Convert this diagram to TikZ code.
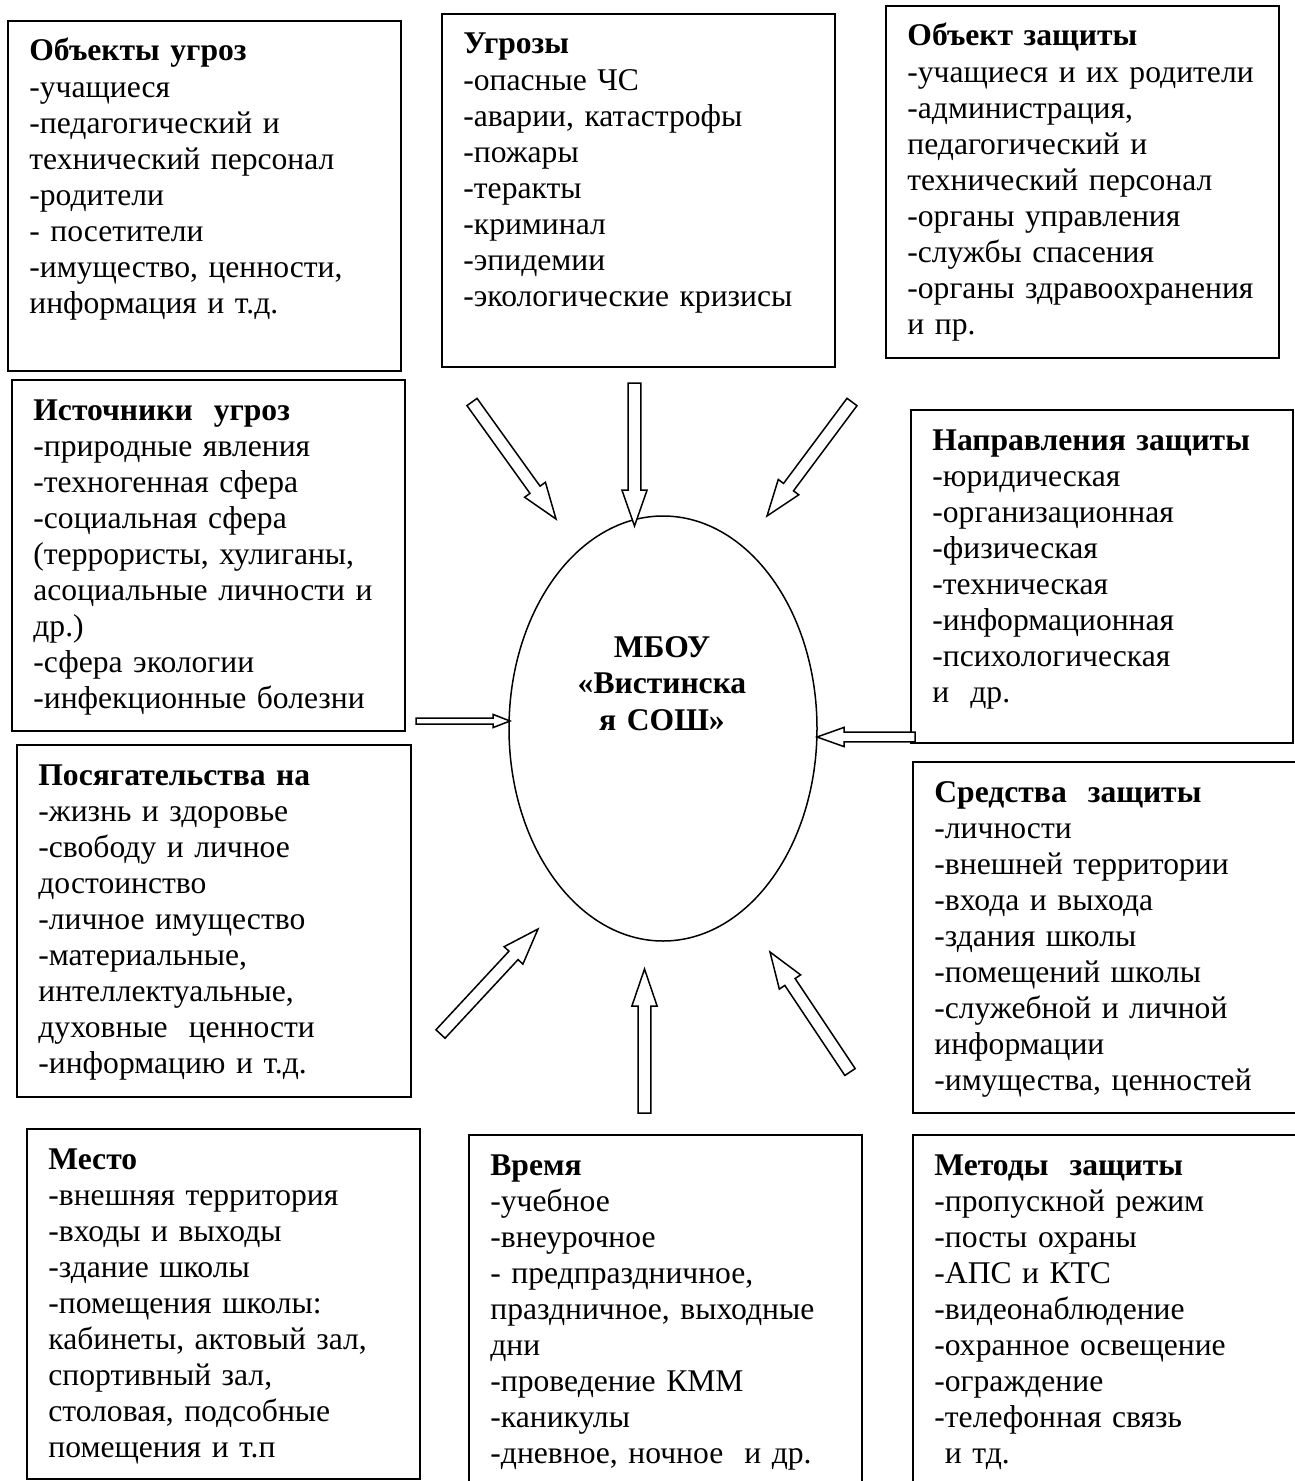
\documentclass[tikz,border=0pt]{standalone}
\usepackage{fontspec}
\setmainfont{Liberation Serif}
\usetikzlibrary{calc,shapes.geometric}

\tikzset{
  frame/.style={draw, line width=1pt},
  info/.style={anchor=base west, align=left, text width=190pt, inner sep=0pt,
    font=\fontsize{15.8pt}{18.05pt}\selectfont},
  arrowline/.style={draw, line width=0.75pt, fill=white, line join=miter},
}

% hollow block arrow: tail, tip, half shaft, half head, head length
\newcommand\blockarrow[5]{%
  \coordinate (hb) at ($(#2)!#5!(#1)$);
  \draw[arrowline] ($(#1)!#3!90:(#2)$) -- ($(hb)!#3!90:(#2)$) -- ($(hb)!#4!90:(#2)$)
    -- (#2) -- ($(hb)!#4!-90:(#2)$) -- ($(hb)!#3!-90:(#2)$) -- ($(#1)!#3!-90:(#2)$) -- cycle;
}

\begin{document}
\begin{tikzpicture}[x=0.5pt, y=-0.5pt]
\useasboundingbox (0,0) rectangle (1294,1481);

% top row
\draw[frame] (8,21) rectangle (401,371);
\node[info] (objthreat) at (29,61) {\textbf{Объекты угроз}\\-учащиеся\\-педагогический и\\технический персонал\\-родители\\- посетители\\-имущество, ценности,\\информация и т.д.};
\draw[frame] (442,14) rectangle (835,367);
\node[info] (threats) at (463,54) {\textbf{Угрозы}\\-опасные ЧС\\-аварии, катастрофы\\-пожары\\-теракты\\-криминал\\-эпидемии\\-экологические кризисы};
\draw[frame] (886,6) rectangle (1279,358);
\node[info] (objprot) at (907,46) {\textbf{Объект защиты}\\-учащиеся и их родители\\-администрация,\\педагогический и\\технический персонал\\-органы управления\\-службы спасения\\-органы здравоохранения\\и пр.};

% middle rows
\draw[frame] (12,380) rectangle (405,731);
\node[info] (sources) at (33,420) {\textbf{Источники\ \ угроз}\\-природные явления\\-техногенная сфера\\-социальная сфера\\(террористы, хулиганы,\\асоциальные личности и\\др.)\\-сфера экологии\\-инфекционные болезни};
\draw[frame] (911,410) rectangle (1293,743);
\node[info] (directions) at (932,450) {\textbf{Направления защиты}\\-юридическая\\-организационная\\-физическая\\-техническая\\-информационная\\-психологическая\\и\ \ др.};
\draw[frame] (17,745) rectangle (411,1097);
\node[info] (attacks) at (38,785) {\textbf{Посягательства на}\\-жизнь и здоровье\\-свободу и личное\\достоинство\\-личное имущество\\-материальные,\\интеллектуальные,\\духовные\ \ ценности\\-информацию и т.д.};
\draw[frame] (913,762) rectangle (1300,1113);
\node[info] (means) at (934,802) {\textbf{Средства\ \ защиты}\\-личности\\-внешней территории\\-входа и выхода\\-здания школы\\-помещений школы\\-служебной и личной\\информации\\-имущества, ценностей};

% bottom row
\draw[frame] (27,1129) rectangle (420,1479);
\node[info] (place) at (48,1169) {\textbf{Место}\\-внешняя территория\\-входы и выходы\\-здание школы\\-помещения школы:\\кабинеты, актовый зал,\\спортивный зал,\\столовая, подсобные\\помещения и т.п};
\draw[frame] (469,1135) rectangle (862,1490);
\node[info] (time) at (490,1175) {\textbf{Время}\\-учебное\\-внеурочное\\- предпраздничное,\\праздничное, выходные\\дни\\-проведение КММ\\-каникулы\\-дневное, ночное\ \ и др.};
\draw[frame] (913,1135) rectangle (1300,1490);
\node[info] (methods) at (934,1175) {\textbf{Методы\ \ защиты}\\-пропускной режим\\-посты охраны\\-АПС и КТС\\-видеонаблюдение\\-охранное освещение\\-ограждение\\-телефонная связь\\\ и тд.};

% centre
\node[draw, ellipse, line width=0.75pt, minimum width=154pt, minimum height=212.5pt, inner sep=0pt] (school) at (663,728.5) {};
\node[anchor=base, align=center, text width=120pt, inner sep=0pt, font=\fontsize{15.8pt}{18.25pt}\selectfont\bfseries] (schoolname) at (662,657) {МБОУ\\«Вистинска\\я СОШ»};

% arrow ends
\coordinate (a1) at (472,402);    \coordinate (b1) at (556,519);
\coordinate (a2) at (634.5,383);  \coordinate (b2) at (634.5,526);
\coordinate (a3) at (852,402);    \coordinate (b3) at (767,516);
\coordinate (a4) at (416,721);    \coordinate (b4) at (510,721);
\coordinate (a5) at (915,737);    \coordinate (b5) at (817,737);
\coordinate (a6) at (440.5,1034); \coordinate (b6) at (538,929);
\coordinate (a7) at (644.5,1113); \coordinate (b7) at (644.5,969);
\coordinate (a8) at (850,1072);   \coordinate (b8) at (770,952);

\blockarrow{a1}{b1}{3.1pt}{6.4pt}{18pt}
\blockarrow{a2}{b2}{3.2pt}{6.3pt}{18pt}
\blockarrow{a3}{b3}{3.1pt}{6.4pt}{18pt}
\blockarrow{a4}{b4}{1.5pt}{3.3pt}{8.5pt}
\blockarrow{a5}{b5}{2.4pt}{4.8pt}{13.5pt}
\blockarrow{a6}{b6}{3.1pt}{6.4pt}{18pt}
\blockarrow{a7}{b7}{3.2pt}{6.3pt}{18.5pt}
\blockarrow{a8}{b8}{3.1pt}{6.4pt}{18pt}
\end{tikzpicture}
\end{document}
